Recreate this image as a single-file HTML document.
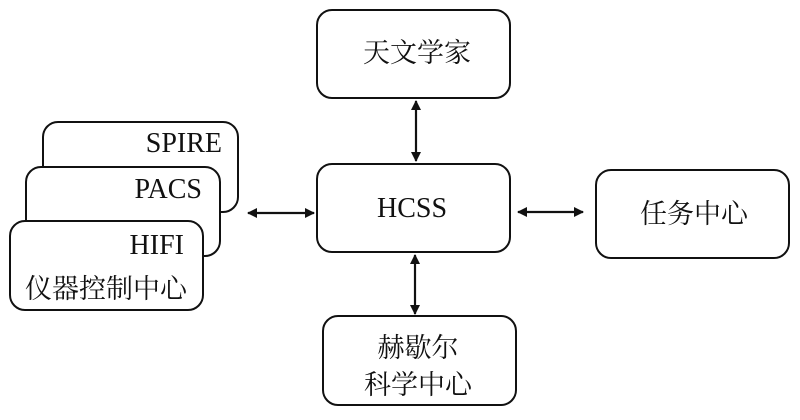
<!DOCTYPE html>
<html><head><meta charset="utf-8"><style>
html,body{margin:0;padding:0;background:#fff;}
svg text{font-family:"Liberation Serif","Noto Serif CJK SC","Noto Sans CJK SC",serif;fill:#111;}
</style></head><body>
<svg width="800" height="415" viewBox="0 0 800 415" xmlns="http://www.w3.org/2000/svg">
<defs>
<marker id="a" markerWidth="10" markerHeight="10" refX="9" refY="5" orient="auto-start-reverse" markerUnits="userSpaceOnUse">
<path d="M0,0 L10,5 L0,10 Z" fill="#111"/>
</marker>
</defs>
<g fill="#fff" stroke="#111" stroke-width="2">
<rect x="43" y="122" width="195" height="90" rx="15"/>
<rect x="26" y="167" width="194" height="89" rx="15"/>
<rect x="10" y="221" width="193" height="89" rx="15"/>
<rect x="317" y="10" width="193" height="88" rx="15"/>
<rect x="317" y="164" width="193" height="88" rx="15"/>
<rect x="596" y="170" width="193" height="88" rx="15"/>
<rect x="323" y="316" width="193" height="89" rx="15"/>
</g>
<g stroke="#111" stroke-width="2.2" fill="none">
<line x1="248" y1="213" x2="314" y2="213" marker-start="url(#a)" marker-end="url(#a)"/>
<line x1="518" y1="212" x2="583" y2="212" marker-start="url(#a)" marker-end="url(#a)"/>
<line x1="416" y1="101" x2="416" y2="161" marker-start="url(#a)" marker-end="url(#a)"/>
<line x1="415" y1="255" x2="415" y2="314" marker-start="url(#a)" marker-end="url(#a)"/>
</g>
<g font-size="28">
<text x="222" y="152" text-anchor="end">SPIRE</text>
<text x="202" y="198" text-anchor="end">PACS</text>
<text x="184" y="254" text-anchor="end">HIFI</text>
<text x="412" y="217" text-anchor="middle">HCSS</text>
</g>
<g font-size="27">
<text x="106" y="298" text-anchor="middle">仪器控制中心</text>
<text x="417" y="62" text-anchor="middle">天文学家</text>
<text x="694" y="223" text-anchor="middle">任务中心</text>
<text x="418" y="357" text-anchor="middle">赫歇尔</text>
<text x="418" y="394" text-anchor="middle">科学中心</text>
</g>
</svg>
</body></html>
